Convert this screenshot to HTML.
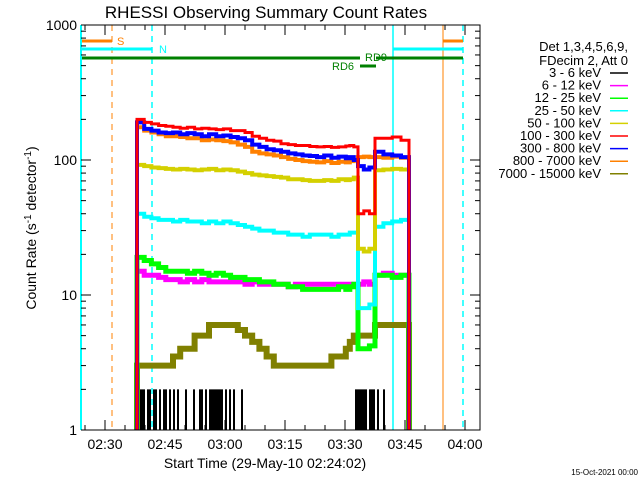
<!DOCTYPE html>
<html><head><meta charset="utf-8"><style>
body{margin:0;background:#fff;}
svg{display:block;font-family:"Liberation Sans",sans-serif;}
</style></head><body>
<svg id="c" width="640" height="480" viewBox="0 0 640 480">
<rect width="640" height="480" fill="#fff"/>
<text x="266" y="18" font-size="17" text-anchor="middle">RHESSI Observing Summary Count Rates</text>
<text x="265" y="468" font-size="14" text-anchor="middle">Start Time (29-May-10 02:24:02)</text>
<text transform="translate(36,228) rotate(-90)" font-size="14" text-anchor="middle">Count Rate (s<tspan dy="-5" font-size="10">-1</tspan><tspan dy="5"> detector</tspan><tspan dy="-5" font-size="10">-1</tspan><tspan dy="5">)</tspan></text>
<text x="638" y="475" font-size="8" text-anchor="end">15-Oct-2021 00:00</text>
<g id="plot"></g>
<g id="legend" font-size="13" text-anchor="end"></g>
</svg>
<script>
const times=[38,39.8,41.6,43.4,45.2,47,48.8,50.6,52.4,54.2,56,57.8,59.6,61.4,63.2,65,66.8,68.6,70.4,72.2,74,75.8,77.6,79.4,81.2,83,84.8,86.6,88.4,90.2,91.2,92.2,93.25,94.7,96.1,97.5,99.6,101.8,104];
const endTime=106;
const red=[200,190,185,180,178,175,172,175,170,172,170,168,170,165,165,160,150,145,140,138,132,130,128,128,126,125,126,124,125,127,128,125,40,42,40,145,145,148,140];
const blue=[190,170,165,160,158,160,155,158,155,150,155,150,152,148,145,140,130,125,120,118,115,112,110,108,107,105,108,104,106,103,105,100,90,85,88,115,110,108,105];
const orange=[175,165,160,155,150,150,148,145,145,140,142,140,138,135,130,125,115,112,110,108,105,102,100,98,97,96,98,95,97,96,98,100,105,106,105,105,104,106,104];
const yellow=[92,90,88,87,86,85,86,85,84,85,86,84,85,84,82,80,78,77,76,75,74,72,72,71,70,70,71,70,72,71,72,74,22,21,22,84,85,86,85];
const cyan=[40,38,37,36,36,35,36,35,35,34,35,34,35,34,33,32,31,30,30,29,29,28,28,27,28,28,28,27,28,28,29,29,8,8,8.5,32,34,35,36];
const green=[19,18,17,16,15,15,15,14.5,15,14.5,14,14.5,14,13.5,13.5,13,13,12.5,12.5,12,12,11.5,11.5,11,11,11,11,11,11.5,11,11.5,12,4,4,4.2,14,14,13.5,14];
const magenta=[15,14,14,13.5,13,13,12.5,13,12.5,13,12.5,12.5,12.5,12.5,12.5,12,12.5,12,12,12,12,11.5,12,12,12,12,12,12,12,11.5,12,12,12,12.5,12,14,14.5,14,14];
const olive=[3,3,3,3,3,3.5,4,4,5,5,6,6,6,6,5.5,5,4.5,4,3.5,3,3,3,3,3,3,3,3,3.5,3.5,4,4.5,5,5,5,5,6,6,6,6];
const blackSpikeTimes=[38.5,39,39.5,40.5,41,42,42.5,43.5,44.5,45,46,47,48,50,52,53.5,54,55,56,56.5,57,57.5,58,58.5,59,60,61,62,64,92.5,93,93.5,94,94.5,95,96,96.5,97,98,99.5];
const blackSpikeValues=[2,2,2,2,2,2,2,2,2,2,2,2,2,2,2,2,2,2,2,2,2,2,2,2,2,2,2,2,2,2,2,2,2,2,2,2,2,2,2,2];
const yTickLabels=["1","10","100","1000"];
const xTickLabels=["02:30","02:45","03:00","03:15","03:30","03:45","04:00"];
const xTickMinutes=[30,45,60,75,90,105,120];
const legendLabels=["3 - 6 keV","6 - 12 keV","12 - 25 keV","25 - 50 keV","50 - 100 keV","100 - 300 keV","300 - 800 keV","800 - 7000 keV","7000 - 15000 keV"];
const legendColors=["#000","#f0f","#0f0","#0ff","#d4d000","#f00","#00f","#ff8000","#808000"];

const NS="http://www.w3.org/2000/svg";
const L=81,R=480,T=25,B=430;
function xs(m){return 105+(m-30)*4;}
function ys(v){return B-135*Math.log10(v);}
const plot=document.getElementById('plot');
function mk(tag,attrs,parent){const e=document.createElementNS(NS,tag);for(const k in attrs)e.setAttribute(k,attrs[k]);(parent||plot).appendChild(e);return e;}

let e;
e=mk('line',{x1:xs(31.75),y1:T,x2:xs(31.75),y2:B,stroke:'#ff8000','stroke-dasharray':'6,5'});


e=mk('line',{x1:xs(41.75),y1:T,x2:xs(41.75),y2:B,stroke:'#0ff','stroke-dasharray':'6,5','stroke-width':1.5});


e=mk('line',{x1:xs(102),y1:T,x2:xs(102),y2:B,stroke:'#0ff','stroke-width':1.5});


e=mk('line',{x1:xs(114.5),y1:T,x2:xs(114.5),y2:B,stroke:'#ff8000'});


e=mk('line',{x1:xs(119.5),y1:T,x2:xs(119.5),y2:B,stroke:'#0ff','stroke-dasharray':'6,5','stroke-width':1.5});


e=mk('line',{x1:L,y1:T,x2:L,y2:B,stroke:'#0ff','stroke-width':2});


const bars=[[L,xs(31.75),41,'#ff8000','saa-bar'],[L,xs(41.75),49,'#0ff','night-bar'],[L,360,58,'#008000','rd9-bar'],[360,376,66,'#008000','rd6-bar'],[376,xs(119.5),58,'#008000','rd9-bar-2'],[xs(114.5),xs(119.5),41,'#ff8000','saa-bar-2'],[xs(102),xs(119.5),49,'#0ff','night-bar-2']];
bars.forEach(b=>{e=mk('line',{x1:b[0],y1:b[2],x2:b[1],y2:b[2],stroke:b[3],'stroke-width':3});

});
[['S',117,45,'#ff8000'],['N',159,53,'#0ff'],['RD9',365,61,'#008000'],['RD6',332,70,'#008000']].forEach(t=>{e=mk('text',{x:t[1],y:t[2],fill:t[3],'font-size':11});e.textContent=t[0];

});

blackSpikeTimes.forEach((m,i)=>{e=mk('rect',{x:xs(m),y:ys(blackSpikeValues[i]),width:2,height:B-ys(blackSpikeValues[i]),fill:'#000'});

});

function series(vals,color,name,w){
  let d='M'+xs(times[0])+','+B;
  vals.forEach((v,i)=>{const x0=xs(times[i]),x1=xs(i<vals.length-1?times[i+1]:endTime);d+=' L'+x0+','+ys(v)+' L'+x1+','+ys(v);});
  d+=' L'+xs(endTime)+','+B;
  const p=mk('path',{d:d,fill:'none',stroke:color,'stroke-width':w});
  
  
}
series(olive,'#808000','series-7000-15000kev',6);
series(magenta,'#f0f','series-6-12kev',5);
series(green,'#0f0','series-12-25kev',5);
series(cyan,'#0ff','series-25-50kev',4);
series(yellow,'#d4d000','series-50-100kev',4);
series(orange,'#ff8000','series-800-7000kev',4);
series(blue,'#00f','series-300-800kev',4);
series(red,'#f00','series-100-300kev',3);

e=mk('path',{d:`M${L},${T} H${R} V${B} H${L}`,fill:'none',stroke:'#000'});


e=mk('line',{x1:L,y1:T,x2:L,y2:B,stroke:'#0ff','stroke-width':2});


for(let dec=0;dec<3;dec++)for(let k=1;k<=10;k++){const y=ys(k*Math.pow(10,dec));const len=k===1||k===10?10:5;
  mk('line',{x1:L,y1:y,x2:L+len,y2:y,stroke:'#000'});mk('line',{x1:R,y1:y,x2:R-len,y2:y,stroke:'#000'});}
yTickLabels.forEach((s,i)=>{e=mk('text',{x:L-4,y:ys(Math.pow(10,i))+5,'font-size':14,'text-anchor':'end'});e.textContent=s;

});
for(let m=25;m<=120;m+=5){const x=xs(m);if(x<L||x>R)continue;const len=m%15===0?10:5;
  mk('line',{x1:x,y1:B,x2:x,y2:B-len,stroke:'#000'});mk('line',{x1:x,y1:T,x2:x,y2:T+len,stroke:'#000'});}
xTickLabels.forEach((s,i)=>{e=mk('text',{x:xs(xTickMinutes[i]),y:449,'font-size':14,'text-anchor':'middle'});e.textContent=s;

});

const lg=document.getElementById('legend');
[['Det 1,3,4,5,6,9,',51],['FDecim 2, Att 0',65]].forEach(t=>{e=mk('text',{x:628,y:t[1]},lg);e.textContent=t[0];

});
legendLabels.forEach((s,i)=>{const y=73+i*12.6;
  e=mk('text',{x:601,y:y+4},lg);e.textContent=s;
  
  
  mk('line',{x1:610,y1:y,x2:628,y2:y,stroke:legendColors[i],'stroke-width':1.5},lg);});
</script>
</body></html>
